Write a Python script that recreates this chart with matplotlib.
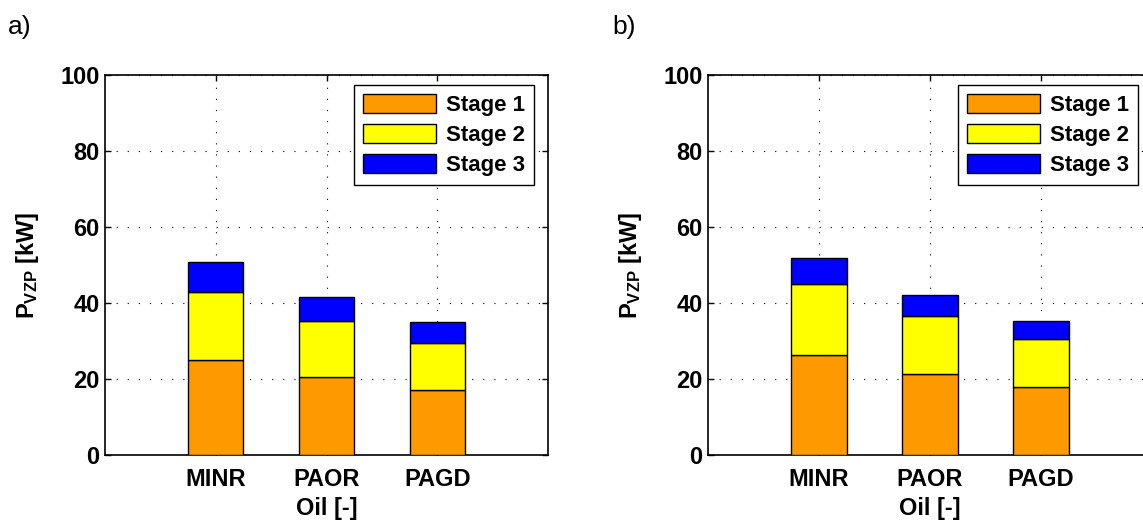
import matplotlib.pyplot as plt
import numpy as np

plt.rcParams['font.family'] = ['Liberation Sans', 'DejaVu Sans']
plt.rcParams['mathtext.fontset'] = 'custom'
plt.rcParams['mathtext.rm'] = 'Liberation Sans'
plt.rcParams['mathtext.bf'] = 'Liberation Sans:bold'

oils = ['MINR', 'PAOR', 'PAGD']
stages = ['Stage 1', 'Stage 2', 'Stage 3']
colors = ['#FF9900', '#FFFF00', '#0000FF']

# stage contributions [kW] for each oil, panel a) and b)
a_stage1 = [25.0, 20.5, 17.2]
a_stage2 = [17.9, 14.7, 12.4]
a_stage3 = [7.9, 6.4, 5.5]

b_stage1 = [26.3, 21.3, 17.9]
b_stage2 = [18.8, 15.3, 12.7]
b_stage3 = [6.7, 5.5, 4.6]

W, H = 1143, 520
fig = plt.figure(figsize=(W / 100, H / 100), dpi=100)


def draw(ax, data):
    x = np.arange(1, len(oils) + 1)
    bottom = np.zeros(len(oils))
    handles = []
    for vals, c, name in zip(data, colors, stages):
        h = ax.bar(x, vals, 0.5, bottom=bottom, color=c, edgecolor='black',
                   linewidth=1.0, label=name, zorder=3)
        bottom += np.array(vals)
        handles.append(h)
    ax.set_xlim(0, 4)
    ax.set_ylim(0, 100)
    ax.set_xticks(x)
    ax.set_xticklabels(oils, fontsize=17, fontweight='bold')
    ax.set_yticks([0, 20, 40, 60, 80, 100])
    ax.set_yticklabels(['0', '20', '40', '60', '80', '100'], fontsize=17, fontweight='bold')
    ax.tick_params(direction='in', top=True, right=True, length=4, width=1)
    ax.tick_params(axis='y', pad=4)
    ax.tick_params(axis='x', pad=9)
    ax.grid(True, linestyle=(0, (1, 9)), color='black', linewidth=0.8, zorder=0)
    for s in ax.spines.values():
        s.set_linewidth(1.2)
    ax.set_ylabel(r'$\mathbf{P_{VZP}}$ [kW]', fontsize=17, fontweight='bold', labelpad=14)
    ax.set_xlabel('Oil [-]', fontsize=17, fontweight='bold', labelpad=5)
    leg = ax.legend(handles=handles, loc='upper right', bbox_to_anchor=(0.968, 0.974),
                    prop={'weight': 'bold', 'size': 16}, fancybox=False,
                    edgecolor='black', framealpha=1, handlelength=3.3, handleheight=0.95,
                    labelspacing=0.35, borderpad=0.4, handletextpad=0.45, borderaxespad=0)
    leg.get_frame().set_linewidth(1.0)
    return ax


ax1 = fig.add_axes([105 / W, 65 / H, 443 / W, 380 / H])
draw(ax1, [a_stage1, a_stage2, a_stage3])
ax2 = fig.add_axes([708 / W, 65 / H, 444 / W, 380 / H])
draw(ax2, [b_stage1, b_stage2, b_stage3])

fig.text(8 / W, 1 - 27 / H, 'a)', fontsize=19, va='center', ha='left')
fig.text(612 / W, 1 - 27 / H, 'b)', fontsize=19, va='center', ha='left')

fig.savefig('out.png', dpi=100)
